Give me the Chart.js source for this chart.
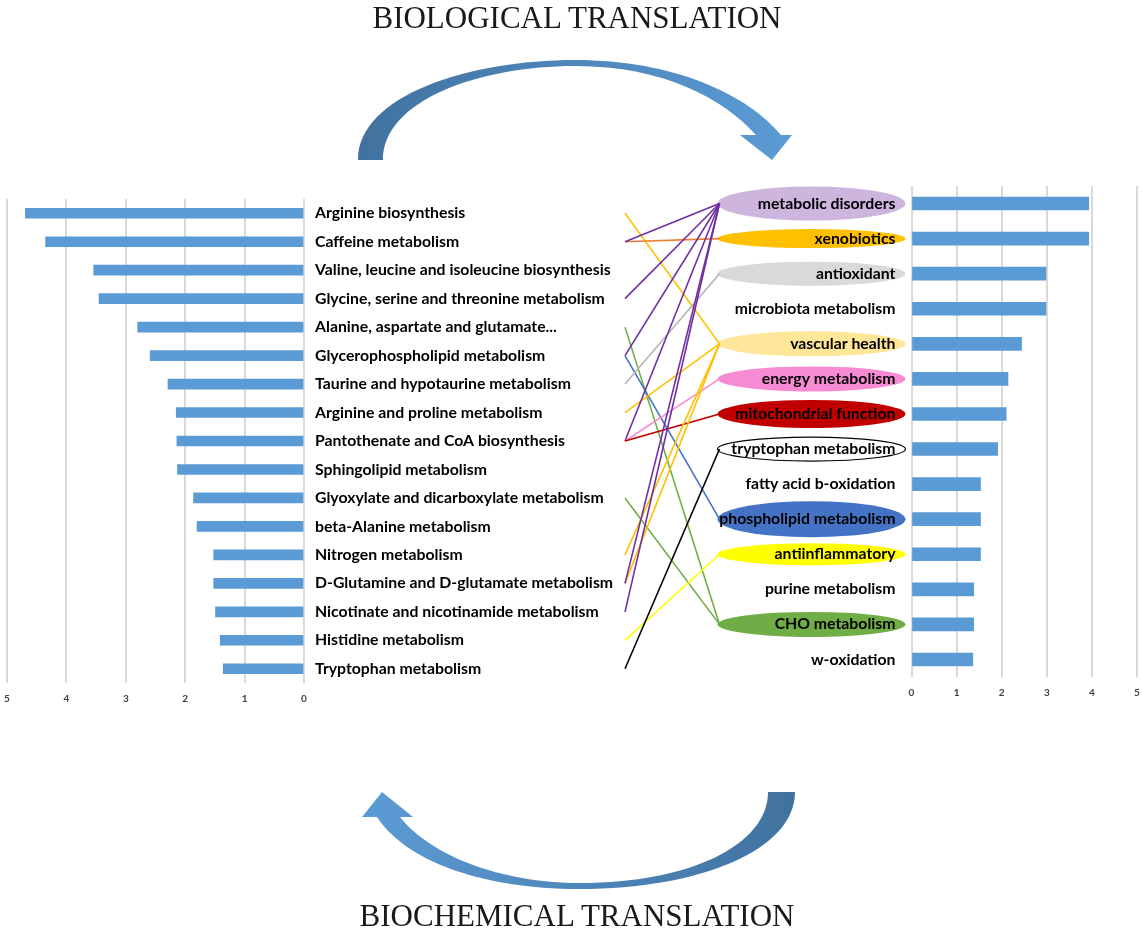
<!DOCTYPE html>
<html>
<head>
<meta charset="utf-8">
<script src="https://cdn.jsdelivr.net/npm/chart.js@4"></script>
<style>
body { margin: 0; background: #fff; }
#stage { position: relative; width: 1142px; height: 933px; overflow: hidden; }
#stage canvas { position: absolute; }
.title { position: absolute; left: 0; width: 1154px; text-align: center; font-family: "Liberation Serif", serif; font-size: 31px; line-height: 34px; color: #1a1a1a; }
</style>
</head>
<body>
<div id="stage">
  <canvas id="arrows" width="1142" height="933" style="left:0;top:0"></canvas>
  <div class="title" style="top:1px">BIOLOGICAL TRANSLATION</div>
  <div class="title" style="top:899px">BIOCHEMICAL TRANSLATION</div>
  <canvas id="leftChart" width="625" height="540" style="left:0;top:180px"></canvas>
  <canvas id="rightChart" width="542" height="540" style="left:600px;top:180px"></canvas>
</div>
<script>
// metabolic pathways (left bars)
const pathwayLabels = [
    "Arginine biosynthesis",
    "Caffeine metabolism",
    "Valine, leucine and isoleucine biosynthesis",
    "Glycine, serine and threonine metabolism",
    "Alanine, aspartate and glutamate...",
    "Glycerophospholipid metabolism",
    "Taurine and hypotaurine metabolism",
    "Arginine and proline metabolism",
    "Pantothenate and CoA biosynthesis",
    "Sphingolipid metabolism",
    "Glyoxylate and dicarboxylate metabolism",
    "beta-Alanine metabolism",
    "Nitrogen metabolism",
    "D-Glutamine and D-glutamate metabolism",
    "Nicotinate and nicotinamide metabolism",
    "Histidine metabolism",
    "Tryptophan metabolism"
];
const pathwayValues = [4.69, 4.35, 3.54, 3.45, 2.80, 2.59, 2.29, 2.15, 2.14, 2.13, 1.86, 1.80, 1.52, 1.52, 1.49, 1.41, 1.36];

// biological functions (right bars)
const functionLabels = [
    "metabolic disorders",
    "xenobiotics",
    "antioxidant",
    "microbiota metabolism",
    "vascular health",
    "energy metabolism",
    "mitochondrial function",
    "tryptophan metabolism",
    "fatty acid b-oxidation",
    "phospholipid metabolism",
    "antiinflammatory",
    "purine metabolism",
    "CHO metabolism",
    "w-oxidation"
];
const functionValues = [3.93, 3.93, 2.98, 2.98, 2.44, 2.14, 2.10, 1.91, 1.53, 1.53, 1.53, 1.38, 1.38, 1.36];

// axis ticks
const axisMin = 0;
const axisMax = 5;

// links: [pathway index, function index]
const links = [
    [0, 4], [1, 1], [1, 0], [3, 0], [4, 12], [5, 0], [5, 9], [6, 2],
    [7, 4], [8, 0], [8, 5], [8, 6], [10, 12], [12, 4], [13, 4], [13, 0],
    [14, 0], [15, 10], [16, 7]
];

// styles
const barBlue = "#5b9bd5";
const gridGray = "#d9d9d9";
const ellipseFill = ["#cdb5de", "#ffc000", "#d9d9d9", null, "#ffe699", "#f78bd3", "#c00000",
    "#ffffff", null, "#4472c4", "#ffff00", null, "#70ad47", null];
const ellipseRy = [17, 9.5, 12, 0, 12.5, 12.5, 14, 12, 0, 18, 11, 0, 12.5, 0];
const linkColor = ["#7030a0", "#ed7d31", "#b4b4b4", null, "#ffc000", "#ff8ad0", "#c00000",
    "#000000", null, "#4472c4", "#ffff00", null, "#70ad47", null];
const labelFont = { family: "Lato", size: 15.8, weight: "bold" };
const tickFont = { family: "Lato", size: 10, weight: "bold" };

// keep the chart area where the layout padding puts it
function noEdgePadding(s) {
    s.paddingTop = 0;
    s.paddingBottom = 0;
    s.paddingLeft = 0;
    s.paddingRight = 0;
}

const leftChart = new Chart(document.getElementById("leftChart"), {
    type: "bar",
    data: {
        labels: pathwayLabels,
        datasets: [{ data: pathwayValues, backgroundColor: barBlue, barThickness: 10 }]
    },
    options: {
        indexAxis: "y",
        responsive: false,
        animation: false,
        layout: { padding: { left: 7, right: 0, top: 19, bottom: 7 } },
        plugins: { legend: { display: false }, tooltip: { enabled: false } },
        scales: {
            x: {
                reverse: true, min: axisMin, max: axisMax,
                ticks: { stepSize: 1, font: tickFont, color: "#404040", padding: 10 },
                grid: { color: gridGray, lineWidth: 2, drawTicks: false },
                border: { display: false },
                afterFit: (s) => { s.height = 30; noEdgePadding(s); }
            },
            y: {
                position: "right",
                grid: { display: false, drawTicks: false },
                border: { display: false },
                ticks: { autoSkip: false, font: labelFont, color: "#000", padding: 11 },
                afterFit: (s) => { s.width = 321; noEdgePadding(s); }
            }
        }
    }
});

// ellipses and connecting lines, drawn under the tick labels
const bubblePlugin = {
    id: "bubbles",
    beforeDraw(chart) {
        const ctx = chart.ctx;
        const y = chart.scales.y;
        const cx = chart.chartArea.left - 100;
        const rx = 94;
        ctx.save();
        functionLabels.forEach((_, i) => {
            if (!ellipseFill[i]) return;
            ctx.beginPath();
            ctx.ellipse(cx, y.getPixelForValue(i), rx, ellipseRy[i], 0, 0, Math.PI * 2);
            ctx.fillStyle = ellipseFill[i];
            ctx.fill();
            if (ellipseFill[i] === "#ffffff") {
                ctx.strokeStyle = "#000";
                ctx.lineWidth = 1.2;
                ctx.stroke();
            }
        });
        const leftY = leftChart.scales.y;
        ctx.lineWidth = 1.6;
        links.forEach(([from, to]) => {
            ctx.beginPath();
            ctx.moveTo(25, leftY.getPixelForValue(from));
            ctx.lineTo(cx - rx + 2, y.getPixelForValue(to));
            ctx.strokeStyle = linkColor[to];
            ctx.stroke();
        });
        ctx.restore();
    }
};

const rightChart = new Chart(document.getElementById("rightChart"), {
    type: "bar",
    data: {
        labels: functionLabels,
        datasets: [{ data: functionValues, backgroundColor: barBlue, barThickness: 13 }]
    },
    options: {
        indexAxis: "y",
        responsive: false,
        animation: false,
        layout: { padding: { left: 0, right: 5, top: 6, bottom: 13 } },
        plugins: { legend: { display: false }, tooltip: { enabled: false } },
        scales: {
            x: {
                min: axisMin, max: axisMax,
                ticks: { stepSize: 1, font: tickFont, color: "#404040", padding: 10 },
                grid: { color: gridGray, lineWidth: 2, drawTicks: false },
                border: { display: false },
                afterFit: (s) => { s.height = 30; noEdgePadding(s); }
            },
            y: {
                position: "left",
                grid: { display: false, drawTicks: false },
                border: { display: false },
                ticks: { autoSkip: false, font: labelFont, color: "#000", padding: 16 },
                afterFit: (s) => { s.width = 311.5; noEdgePadding(s); }
            }
        }
    },
    plugins: [bubblePlugin]
});

// the two curved arrows
function drawArrows() {
    const ctx = document.getElementById("arrows").getContext("2d");

    let g = ctx.createLinearGradient(358, 0, 792, 0);
    g.addColorStop(0, "#41729f");
    g.addColorStop(1, "#5b9bd5");
    ctx.fillStyle = g;
    ctx.beginPath();
    ctx.moveTo(358, 160);
    ctx.bezierCurveTo(358, 95, 470, 60, 575, 60);
    ctx.bezierCurveTo(675, 60, 748, 95, 781, 135);
    ctx.lineTo(792, 135);
    ctx.lineTo(772, 160);
    ctx.lineTo(740, 135);
    ctx.lineTo(756, 135);
    ctx.bezierCurveTo(725, 100, 665, 66, 575, 66);
    ctx.bezierCurveTo(480, 66, 383, 100, 383, 160);
    ctx.closePath();
    ctx.fill();

    g = ctx.createLinearGradient(362, 0, 795, 0);
    g.addColorStop(0, "#5b9bd5");
    g.addColorStop(1, "#41729f");
    ctx.fillStyle = g;
    ctx.beginPath();
    ctx.moveTo(795, 792);
    ctx.bezierCurveTo(795, 850, 700, 889, 580, 889);
    ctx.bezierCurveTo(480, 889, 405, 860, 377, 817);
    ctx.lineTo(362, 817);
    ctx.lineTo(382, 792);
    ctx.lineTo(413, 817);
    ctx.lineTo(400, 817);
    ctx.bezierCurveTo(430, 855, 500, 883, 580, 883);
    ctx.bezierCurveTo(690, 883, 768, 845, 768, 792);
    ctx.closePath();
    ctx.fill();
}
drawArrows();
</script>
</body>
</html>
